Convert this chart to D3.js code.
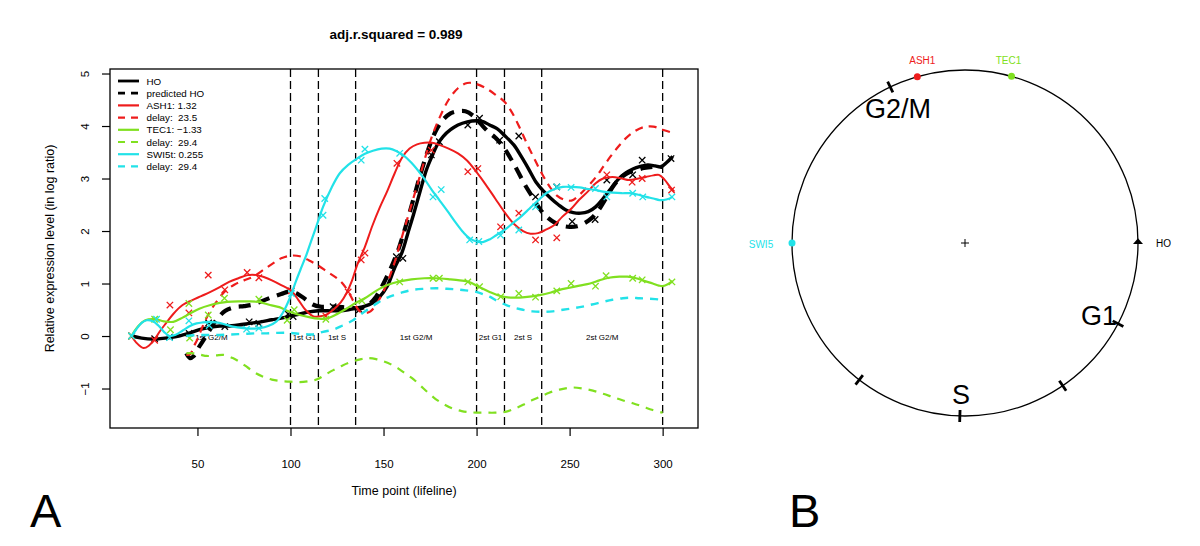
<!DOCTYPE html>
<html><head><meta charset="utf-8">
<script src="https://cdn.jsdelivr.net/npm/d3@7"></script>
<style>
html,body{margin:0;padding:0;background:#fff;}
svg{display:block;}
text{font-family:'Liberation Sans',Arial,Helvetica,sans-serif;}
</style></head>
<body>
<svg id="chart" width="1200" height="546"></svg>
<script>
// ---------------- DATA ----------------
const titleText = "adj.r.squared = 0.989";
const yTicks = [-1, 0, 1, 2, 3, 4, 5];
const xTicks = [50, 100, 150, 200, 250, 300];
const phaseLines = [100, 115, 135, 200, 215, 235, 300];
const phaseLabels = ["1st G2/M", "1st G1", "1st S", "1st G2/M", "2st G1", "2st S", "2st G2/M"];
const phaseLabelT = [57.5, 107.5, 125, 167.5, 207.5, 225, 267.5];

// HO observed (fitted curve) and points
const hoFit = [[14.6,0],[20,-0.04],[26,-0.06],[30,-0.05],[35,-0.03],[40,0],[46,0.06],[52,0.13],[57,0.17],[62,0.19],[66,0.19],[72,0.21],[78,0.24],[84,0.27],[90,0.31],[95,0.34],[100,0.38],[105,0.42],[110,0.46],[115,0.48],[120,0.48],[126,0.48],[131,0.5],[135,0.53],[140,0.57],[144,0.63],[148,0.75],[152,0.95],[156,1.3],[160,1.6],[163,1.95],[166,2.3],[170,2.8],[173,3.16],[176,3.42],[179,3.65],[182,3.8],[186,3.93],[190,4.02],[195,4.08],[200,4.1],[203,4.09],[207,4.02],[211,3.95],[215,3.82],[220,3.64],[224,3.42],[228,3.18],[232,2.93],[236,2.76],[240,2.62],[244,2.5],[248,2.4],[252,2.35],[256,2.34],[260,2.37],[264,2.46],[268,2.62],[272,2.8],[276,2.98],[280,3.1],[284,3.18],[288,3.23],[292,3.26],[296,3.24],[299,3.22],[302,3.3],[305.4,3.42]];
const hoPtsT = [14.6,27,35,45.5,56,64.7,77.8,83,98.7,101.4,122.9,137,156.9,160.4,175.7,180,195.3,201.6,212.4,222.7,231.7,243.1,251.4,263.7,270,283.9,289,304.5];
const hoPtsV = [0,-0.05,-0.02,0.05,0.25,0.18,0.27,0.24,0.42,0.37,0.56,0.5,1.51,1.48,3.45,3.7,4.02,4.15,3.73,3.81,2.65,2.84,2.18,2.22,2.97,3.07,3.35,3.38];
const hoPred = [[44,-0.33],[46,-0.42],[48,-0.38],[51,-0.2],[55,0.02],[60,0.3],[65,0.48],[70,0.55],[75,0.57],[80,0.6],[85,0.67],[90,0.74],[95,0.8],[100,0.85],[104,0.8],[108,0.7],[112,0.6],[116,0.56],[122,0.56],[128,0.55],[134,0.53],[138,0.53],[142,0.6],[146,0.75],[150,1.0],[154,1.3],[158,1.65],[162,2.1],[166,2.6],[170,3.1],[174,3.55],[178,3.9],[182,4.12],[186,4.24],[190,4.28],[194,4.28],[198,4.2],[202,4.05],[206,3.9],[210,3.78],[214,3.62],[218,3.4],[222,3.15],[226,2.88],[230,2.65],[234,2.42],[238,2.26],[242,2.16],[246,2.1],[250,2.08],[254,2.09],[258,2.15],[262,2.25],[266,2.42],[270,2.65],[274,2.88],[278,3.03],[282,3.12],[286,3.16],[290,3.2],[295,3.22],[300,3.22]];

// ASH1
const ashFit = [[14.6,0],[17,-0.12],[21,-0.23],[24,-0.18],[27,-0.06],[30,0.1],[33,0.24],[37,0.42],[42,0.59],[47,0.68],[52,0.76],[57,0.84],[62,0.93],[67,1.03],[72,1.1],[77,1.16],[82,1.16],[86,1.12],[90,1.06],[95,0.97],[100,0.87],[104,0.7],[108,0.5],[112,0.38],[115,0.37],[119,0.4],[123,0.5],[127,0.64],[130,0.81],[133,1.05],[136,1.37],[140,1.7],[144,2.1],[148,2.45],[152,2.76],[156,3.1],[160,3.4],[164,3.57],[168,3.65],[172,3.68],[176,3.68],[180,3.64],[185,3.57],[190,3.48],[195,3.34],[200,3.12],[205,2.88],[210,2.62],[215,2.36],[220,2.14],[225,2.0],[229,1.95],[233,1.96],[237,2.02],[242,2.12],[246,2.27],[251,2.43],[255,2.59],[260,2.76],[264,2.91],[268,3.0],[273,3.03],[278,3.0],[282,2.97],[287,3.0],[291,3.03],[295,3.06],[298,3.07],[301,2.98],[304,2.84],[306.3,2.75]];
const ashPtsT = [14.6,27,35.2,45.4,55.8,64.7,76.7,83,100.5,119,131,138,140,157.2,175.7,195.3,200.7,212.9,222.7,231.7,243.1,270,283.6,289,304.8];
const ashPtsV = [0,-0.08,0.59,0.44,1.16,0.88,1.21,1.11,0.86,0.38,0.84,1.45,1.58,3.29,3.54,3.13,3.19,2.08,2.34,1.83,1.87,3.07,2.93,3.0,2.78];
const ashDelay = [[44,-0.36],[46,-0.35],[48,-0.2],[50,-0.06],[53,0.2],[56,0.42],[60,0.64],[65,0.86],[70,0.98],[75,1.06],[80,1.13],[85,1.25],[90,1.37],[95,1.48],[100,1.53],[105,1.52],[110,1.44],[115,1.34],[120,1.22],[125,1.1],[128,1.0],[131,0.85],[134,0.65],[137,0.48],[140,0.44],[143,0.47],[146,0.6],[150,0.85],[155,1.3],[160,1.9],[165,2.5],[170,3.1],[175,3.7],[180,4.15],[185,4.5],[190,4.72],[195,4.82],[200,4.8],[205,4.72],[210,4.6],[215,4.46],[219,4.26],[223,3.98],[227,3.67],[231,3.38],[235,3.1],[239,2.86],[243,2.68],[247,2.6],[251,2.58],[255,2.68],[260,2.86],[264,3.02],[268,3.22],[272,3.42],[276,3.6],[280,3.76],[285,3.9],[290,3.98],[295,3.99],[300,3.93],[305.4,3.87]];

// TEC1
const tecFit = [[14.6,0],[18,0.18],[22,0.3],[27,0.32],[32,0.28],[37,0.27],[42,0.35],[46,0.43],[51,0.52],[57,0.59],[62,0.63],[66,0.65],[72,0.66],[77,0.66],[83,0.65],[89,0.59],[94,0.55],[99,0.47],[104,0.41],[110,0.36],[115,0.33],[119,0.33],[124,0.4],[130,0.52],[135,0.63],[140,0.72],[146,0.86],[152,0.97],[158.7,1.04],[165,1.08],[172,1.1],[178,1.1],[185.5,1.08],[191,1.06],[196,1.03],[201,0.94],[207,0.84],[214,0.75],[220,0.73],[226,0.74],[233.8,0.78],[240,0.83],[244.6,0.88],[250,0.92],[255.3,0.96],[261,1.0],[266,1.06],[271,1.11],[276.8,1.13],[281,1.13],[285.7,1.1],[290,1.05],[294.7,1.0],[298,0.96],[300,0.95],[303,0.99],[305.4,1.05]];
const tecPtsT = [14.6,27,35.5,45.4,45.8,55.8,64.5,83,98.2,102,119,138.4,158.7,176.6,180,195.3,201.6,213,222.7,231.7,243.1,250.8,263.9,269.6,283.9,289,305];
const tecPtsV = [0,0.32,0.12,0.62,-0.04,0.4,0.72,0.7,0.3,0.5,0.32,0.67,1.03,1.1,1.1,1.03,0.94,0.75,0.81,0.74,0.86,1.0,0.95,1.15,1.1,1.07,1.03];
const tecDelay = [[44,-0.33],[48,-0.33],[52,-0.36],[55,-0.38],[60,-0.37],[64,-0.36],[69,-0.42],[73,-0.5],[77,-0.6],[81,-0.7],[85,-0.77],[90,-0.83],[95,-0.86],[100,-0.87],[105,-0.88],[110,-0.86],[114,-0.83],[118,-0.75],[123,-0.65],[128,-0.56],[133,-0.49],[138,-0.44],[141,-0.42],[146,-0.44],[150,-0.48],[154,-0.54],[158,-0.62],[162,-0.72],[166,-0.82],[170,-0.95],[174,-1.08],[178,-1.2],[182,-1.29],[187,-1.38],[192,-1.43],[196,-1.45],[200,-1.46],[205,-1.46],[210,-1.46],[216,-1.44],[220,-1.39],[225,-1.31],[230,-1.22],[234,-1.16],[239,-1.08],[244.6,-1.02],[249,-0.99],[252,-0.98],[257,-1.0],[262.5,-1.04],[268,-1.1],[273,-1.16],[278,-1.22],[284,-1.28],[289,-1.34],[294.7,-1.41],[300,-1.46]];

// SWI5t
const swiFit = [[14.6,0],[17,0.12],[20,0.25],[22.7,0.3],[26,0.28],[29,0.2],[32,0.08],[35,0.0],[38,0.02],[42.3,0.11],[46,0.19],[49.5,0.24],[53,0.26],[56.7,0.27],[60,0.26],[64,0.23],[69,0.18],[74.6,0.15],[79,0.14],[83.5,0.15],[88,0.19],[92.5,0.28],[96,0.45],[99.6,0.72],[103,1.05],[106,1.32],[108.6,1.55],[111,1.8],[114,2.1],[117.5,2.46],[122,2.82],[126.5,3.1],[131,3.26],[135.4,3.37],[140,3.47],[144.3,3.53],[149,3.57],[153.3,3.57],[157,3.52],[160.4,3.45],[165,3.3],[171.2,3.03],[176,2.78],[180,2.59],[185,2.35],[189,2.15],[193,1.97],[196.3,1.86],[200,1.8],[203.4,1.79],[207,1.84],[210.6,1.92],[215,2.02],[219.5,2.15],[224,2.28],[228.5,2.43],[233,2.58],[237.4,2.72],[242,2.8],[246.4,2.84],[251,2.84],[255.3,2.83],[260,2.8],[264.3,2.78],[268,2.75],[273.2,2.73],[278,2.72],[282.2,2.72],[287,2.69],[291.1,2.65],[295,2.62],[298.3,2.59],[302,2.6],[305.4,2.65]];
const swiPtsT = [14.6,28,35,45.4,56.3,76.4,83,100.5,117.5,118.4,138,140,158.7,176.6,181,196.3,201.2,212.9,222.7,231.7,243.1,250.8,263.9,270,283.9,289.3,305];
const swiPtsV = [0,0.32,-0.03,0.29,0.2,0.13,0.15,0.81,2.3,2.62,3.35,3.56,3.48,2.65,2.79,1.83,1.8,1.92,2.02,2.46,2.84,2.83,2.81,2.65,2.72,2.65,2.65];
const swiDelay = [[44,0.0],[50,0.02],[56,0.02],[62,0.02],[68,0.03],[74.6,0.04],[81,0.05],[87,0.05],[93,0.06],[99.6,0.06],[106,0.04],[112,0.03],[117.5,0.08],[123,0.12],[128,0.2],[133.6,0.3],[138,0.42],[142.6,0.53],[148,0.66],[153.3,0.75],[160,0.83],[165.8,0.88],[172,0.9],[178.4,0.91],[184,0.9],[189,0.89],[194,0.87],[199.8,0.84],[204,0.79],[207,0.75],[211,0.67],[216,0.59],[220,0.54],[224.9,0.5],[230,0.47],[235.6,0.46],[241,0.47],[246.4,0.5],[252,0.53],[257,0.56],[262,0.6],[267.8,0.65],[273,0.69],[278.6,0.72],[283,0.73],[287.5,0.72],[293,0.71],[300,0.69]];

const legendLabels = ["HO", "predicted HO", "ASH1: 1.32", "delay:  23.5", "TEC1: \u22121.33", "delay:  29.4", "SWI5t: 0.255", "delay:  29.4"];

// Panel B (circle)
const geneNames = ["ASH1", "TEC1", "SWI5", "HO"];
const geneAngles = [106, 74.4, 180, 0];        // degrees, counter-clockwise from east
const phaseTickAngles = [115.6, -27.8, -55.6, -91.7, -127.7];
const phaseNames = ["G2/M", "G1", "S"];

// ---------------- STYLE ----------------
const RED = "#ee1c1c", GREEN = "#80e020", CYAN = "#22e2e8";
const svg = d3.select("#chart");

const x = d3.scaleLinear().domain([3, 319]).range([110, 698]);
const y = d3.scaleLinear().domain([-1.752, 5.086]).range([428, 69]);

svg.append("defs").append("clipPath").attr("id", "clip")
  .append("rect").attr("x", 110).attr("y", 69).attr("width", 588).attr("height", 359);

// title
svg.append("text").attr("x", 396).attr("y", 39).attr("text-anchor", "middle")
  .attr("font-size", 13.5).attr("font-weight", "bold").text(titleText);

// axes
const yAxis = d3.axisLeft(y).tickValues(yTicks).tickSize(8).tickFormat(d => d < 0 ? "\u2212" + Math.abs(d) : d);
const gy = svg.append("g").attr("transform", "translate(110,0)").call(yAxis);
gy.select(".domain").remove();
gy.selectAll(".tick line").attr("stroke", "#000").attr("stroke-width", 1.2);
gy.selectAll(".tick text").attr("font-size", 11.5).attr("fill", "#000")
  .attr("font-family", "'Liberation Sans',Arial,sans-serif")
  .attr("text-anchor", "middle").attr("dy", null).attr("x", null)
  .attr("transform", "translate(-25,0) rotate(-90)").attr("dominant-baseline", "central");

const xAxis = d3.axisBottom(x).tickValues(xTicks).tickSize(8).tickPadding(24);
const gx = svg.append("g").attr("transform", "translate(0,428)").call(xAxis);
gx.select(".domain").remove();
gx.selectAll(".tick line").attr("stroke", "#000").attr("stroke-width", 1.2);
gx.selectAll(".tick text").attr("font-size", 11.5).attr("fill", "#000")
  .attr("font-family", "'Liberation Sans',Arial,sans-serif");

// box
svg.append("rect").attr("x", 110).attr("y", 69).attr("width", 588).attr("height", 359)
  .attr("fill", "none").attr("stroke", "#000").attr("stroke-width", 1.3);

svg.append("text").attr("x", 404).attr("y", 495).attr("text-anchor", "middle")
  .attr("font-size", 12.5).text("Time point (lifeline)");
svg.append("text").attr("transform", "translate(54,248.5) rotate(-90)").attr("text-anchor", "middle")
  .attr("font-size", 12.5).text("Relative expression level (in log ratio)");

const plot = svg.append("g").attr("clip-path", "url(#clip)");

// phase lines and labels
plot.selectAll(".phase").data(phaseLines).enter().append("line")
  .attr("x1", d => x(d)).attr("x2", d => x(d)).attr("y1", 69).attr("y2", 428)
  .attr("stroke", "#000").attr("stroke-width", 1.3).attr("stroke-dasharray", "8,4");
plot.selectAll(".plab").data(phaseLabels).enter().append("text")
  .attr("x", (d, i) => x(phaseLabelT[i])).attr("y", y(0) + 4)
  .attr("text-anchor", "middle").attr("font-size", 8).text(d => d);

const line = d3.line().x(d => x(d[0])).y(d => y(d[1])).curve(d3.curveCatmullRom.alpha(0.5));
const crossPath = "M-3.2,-3.2L3.2,3.2M-3.2,3.2L3.2,-3.2";

function drawSeries(fit, ptsT, ptsV, color, w) {
  plot.append("path").datum(fit).attr("d", line).attr("fill", "none")
    .attr("stroke", color).attr("stroke-width", w);
  plot.selectAll(null).data(ptsT).enter().append("path")
    .attr("d", crossPath).attr("transform", (d, i) => `translate(${x(d)},${y(ptsV[i])})`)
    .attr("stroke", color).attr("stroke-width", 1.3).attr("fill", "none");
}
function drawDashed(data, color, w, dash) {
  plot.append("path").datum(data).attr("d", line).attr("fill", "none")
    .attr("stroke", color).attr("stroke-width", w).attr("stroke-dasharray", dash);
}

drawSeries(hoFit, hoPtsT, hoPtsV, "#000", 3.4);
drawDashed(hoPred, "#000", 4.2, "12,8");
drawSeries(ashFit, ashPtsT, ashPtsV, RED, 2);
drawDashed(ashDelay, RED, 2.2, "8,6");
drawSeries(tecFit, tecPtsT, tecPtsV, GREEN, 2.2);
drawDashed(tecDelay, GREEN, 2.2, "8,7");
drawSeries(swiFit, swiPtsT, swiPtsV, CYAN, 2.2);
drawDashed(swiDelay, CYAN, 2.4, "8,7");

// legend
const legColors = ["#000", "#000", RED, RED, GREEN, GREEN, CYAN, CYAN];
const legDash = [null, "7,6", null, "7,6", null, "7,6", null, "7,6"];
const legW = [2.8, 2.8, 2.2, 2.2, 2.2, 2.2, 2.2, 2.2];
const leg = svg.append("g");
legendLabels.forEach((lab, i) => {
  const yy = 81 + i * 12.2;
  leg.append("line").attr("x1", 118).attr("x2", 139).attr("y1", yy).attr("y2", yy)
    .attr("stroke", legColors[i]).attr("stroke-width", legW[i]).attr("stroke-dasharray", legDash[i]);
  leg.append("text").attr("x", 146.5).attr("y", yy + 3.6).attr("font-size", 9.8)
    .style("white-space", "pre").text(lab);
});

// panel letters
svg.append("text").attr("x", 30).attr("y", 527).attr("font-size", 47).text("A");
svg.append("text").attr("x", 789).attr("y", 527).attr("font-size", 47).text("B");

// ---------------- PANEL B ----------------
const cx = 965, cy = 243, R = 173;
const ang = d3.scaleLinear().domain([0, 360]).range([0, 2 * Math.PI]);
const px = (a, r) => cx + r * Math.cos(ang(a));
const py = (a, r) => cy - r * Math.sin(ang(a));
svg.append("circle").attr("cx", cx).attr("cy", cy).attr("r", R)
  .attr("fill", "none").attr("stroke", "#000").attr("stroke-width", 1.3);
svg.append("path").attr("d", `M${cx-4},${cy}H${cx+4}M${cx},${cy-4}V${cy+4}`)
  .attr("stroke", "#000").attr("stroke-width", 1);
svg.selectAll(".ptick").data(phaseTickAngles).enter().append("line")
  .attr("x1", d => px(d, R - 6)).attr("y1", d => py(d, R - 6))
  .attr("x2", d => px(d, R + 6)).attr("y2", d => py(d, R + 6))
  .attr("stroke", "#000").attr("stroke-width", 2.8);

const phaseNamePos = [[865, 118, "start"], [1081, 325, "start"], [961, 404, "middle"]];
phaseNames.forEach((n, i) => {
  svg.append("text").attr("x", phaseNamePos[i][0]).attr("y", phaseNamePos[i][1])
    .attr("text-anchor", phaseNamePos[i][2]).attr("font-size", 27).text(n);
});

const geneColors = [RED, GREEN, CYAN, "#000"];
geneNames.forEach((g, i) => {
  const a = geneAngles[i];
  if (g === "HO") {
    const gx0 = px(a, R), gy0 = py(a, R);
    svg.append("path").attr("d", d3.symbol(d3.symbolTriangle, 30)())
      .attr("transform", `translate(${gx0},${gy0 - 1}) scale(1.2,0.8)`).attr("fill", "#000");
    svg.append("text").attr("x", gx0 + 18).attr("y", gy0 + 3.5).attr("font-size", 10).text(g);
  } else {
    svg.append("circle").attr("cx", px(a, R)).attr("cy", py(a, R)).attr("r", 3.5).attr("fill", geneColors[i]);
  }
});
svg.append("text").attr("x", px(geneAngles[0], R) + 5).attr("y", 64).attr("text-anchor", "middle")
  .attr("font-size", 10).attr("fill", RED).text(geneNames[0]);
svg.append("text").attr("x", px(geneAngles[1], R) - 3).attr("y", 64).attr("text-anchor", "middle")
  .attr("font-size", 10).attr("fill", GREEN).text(geneNames[1]);
svg.append("text").attr("x", px(geneAngles[2], R) - 31).attr("y", cy + 4.5).attr("text-anchor", "middle")
  .attr("font-size", 10).attr("fill", CYAN).text(geneNames[2]);
</script>
</body></html>
